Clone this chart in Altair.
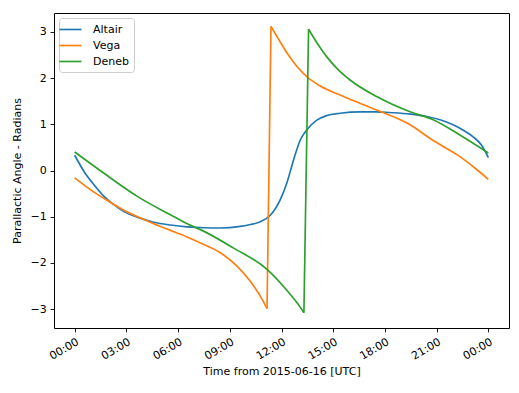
import altair as alt
import pandas as pd

stars = ["Altair", "Vega", "Deneb"]
colors = ["#1f77b4", "#ff7f0e", "#2ca02c"]

altair_hours = [0.0, 0.54, 1.12, 1.70, 2.28, 2.86, 3.63, 4.59, 5.56, 6.52, 7.5, 8.45, 9.61,
                10.2, 10.77, 11.35, 11.93, 12.31, 12.70, 13.09, 13.47, 14.05, 14.63, 15.4,
                16.56, 17.5, 18.49, 19.46, 20.42, 21.2, 21.96, 22.6, 23.12, 23.6, 24.0]
altair_angle = [0.33, -0.02, -0.31, -0.56, -0.74, -0.89, -1.01, -1.12, -1.18, -1.22, -1.24, -1.245, -1.21,
                -1.17, -1.11, -0.97, -0.63, -0.27, 0.23, 0.66, 0.88, 1.09, 1.19, 1.24,
                1.27, 1.27, 1.25, 1.22, 1.17, 1.10, 0.99, 0.86, 0.73, 0.55, 0.28]

vega_hours = [0.0, 0.93, 1.89, 2.86, 4.01, 5.17, 6.52, 7.30, 8.45, 9.42, 10.19, 10.77, 11.16,
              11.39, 11.8, 12.31, 12.9, 13.5, 14.2, 15.6, 17.52, 19.46, 20.8, 21.38, 22.35, 23.2, 24.0]
vega_angle = [-0.16, -0.42, -0.65, -0.86, -1.06, -1.24, -1.44, -1.57, -1.78, -2.07, -2.40, -2.72, -2.99,
              3.12, 2.86, 2.55, 2.25, 2.02, 1.84, 1.60, 1.31, 0.99, 0.65, 0.52, 0.30, 0.06, -0.19]

deneb_hours = [0.0, 1.70, 3.63, 5.56, 6.62, 7.30, 9.22, 11.16, 12.12, 12.89, 13.30,
               13.57, 14.1, 14.63, 15.3, 15.98, 17.52, 19.46, 20.8, 22.35, 24.0]
deneb_angle = [0.40, -0.06, -0.56, -0.96, -1.17, -1.28, -1.68, -2.14, -2.51, -2.86, -3.08,
               3.06, 2.74, 2.46, 2.18, 1.96, 1.60, 1.27, 1.10, 0.77, 0.38]

x_ticks = [0, 3, 6, 9, 12, 15, 18, 21, 24]
y_ticks = [-3, -2, -1, 0, 1, 2, 3]

# split each series at its wrap-around (-pi -> +pi) so the jump is a straight segment
rows = []
for name, hs, vs in [("Altair", altair_hours, altair_angle),
                     ("Vega", vega_hours, vega_angle),
                     ("Deneb", deneb_hours, deneb_angle)]:
    piece = 0
    for i, (h, v) in enumerate(zip(hs, vs)):
        if i > 0 and abs(v - vs[i - 1]) > 3:
            rows.append({"star": name, "piece": f"{name}-{piece + 1}", "hour": hs[i - 1], "angle": vs[i - 1]})
            rows.append({"star": name, "piece": f"{name}-{piece + 1}", "hour": h, "angle": v})
            piece += 2
        rows.append({"star": name, "piece": f"{name}-{piece}", "hour": h, "angle": v})
df = pd.DataFrame(rows)

FONT = "DejaVu Sans"

chart = alt.Chart(df).mark_line(strokeWidth=1.67, clip=True, interpolate="monotone").encode(
    x=alt.X("hour:Q",
            scale=alt.Scale(domain=[-1.2, 25.2], nice=False, zero=False),
            axis=alt.Axis(values=x_ticks,
                          labelExpr="(datum.value % 24 < 10 ? '0' : '') + (datum.value % 24) + ':00'",
                          title="Time from 2015-06-16 [UTC]",
                          labelAngle=330, labelAlign="right", labelBaseline="top",
                          titleX=227.5, titleY=43.7, titleBaseline="middle", titleAlign="center")),
    y=alt.Y("angle:Q",
            scale=alt.Scale(domain=[-3.41, 3.41], nice=False, zero=False),
            axis=alt.Axis(values=y_ticks, format="d",
                          title="Parallactic Angle - Radians",
                          titleX=-37, titleY=157.5, titleAngle=270,
                          titleBaseline="middle", titleAlign="center")),
    color=alt.Color("star:N",
                    scale=alt.Scale(domain=stars, range=colors),
                    sort=stars,
                    legend=alt.Legend(title=None, orient="top-left", offset=5,
                                      symbolType="M-2,0H2", symbolSize=121,
                                      symbolStrokeWidth=1.67, labelOffset=16,
                                      rowPadding=4, padding=5,
                                      fillColor="white", strokeColor="#cccccc",
                                      cornerRadius=3, labelFontSize=11,
                                      labelFont=FONT, labelColor="black")),
    detail="piece:N",
).properties(
    width=455, height=315,
    autosize=alt.AutoSizeParams(type="none"),
    padding={"left": 46, "top": 5, "right": 2, "bottom": 55},
).configure_view(
    stroke="black", strokeWidth=1
).configure_axis(
    domain=False, grid=False,
    tickColor="black", tickSize=3.9, tickWidth=0.9,
    labelPadding=3.9, labelFont=FONT, labelFontSize=11, labelColor="black",
    titleFont=FONT, titleFontSize=11, titleFontWeight="normal", titleColor="black",
)

chart.save("out.html", embed_options={"renderer": "svg", "actions": False})
